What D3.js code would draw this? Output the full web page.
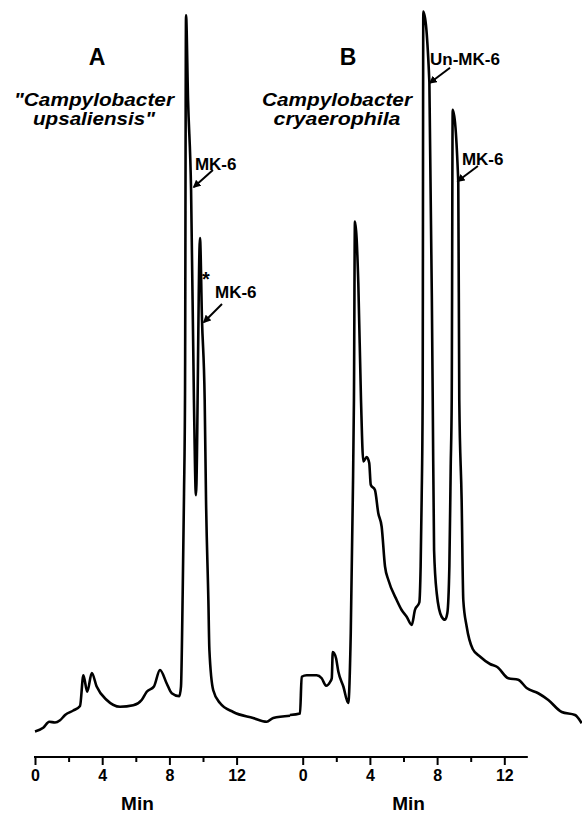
<!DOCTYPE html>
<html lang="en">
    <head>
        <meta charset="utf-8">
        <title>Menaquinone HPLC traces</title>
        <script type="text/javascript" src="https://d3js.org/d3.v7.min.js"></script>
        <style>
            body {
                margin: 0;
                background: white;
            }

            svg text {
                font-family: "Liberation Sans", Arial, Helvetica, sans-serif;
                font-weight: bold;
                fill: black;
            }

            .trace {
                fill: none;
                stroke: black;
                stroke-width: 2.6;
                stroke-linejoin: round;
            }

            .panelLetter {
                font-size: 23px;
            }

            .species {
                font-size: 17.5px;
                font-style: italic;
            }

            .peakLabel {
                font-size: 17px;
            }

            .axis text {
                font-size: 16px;
            }

            .axisTitle {
                font-size: 19px;
            }
        </style>
    </head>
    <body>
        <div id="svgContainer"></div>
        <script type="text/javascript">
            //trace A: "Campylobacter upsaliensis" (time in min, detector signal in %)
            let timeA = [0.00, 0.49, 0.85, 1.19, 1.49, 1.79, 2.28, 2.68, 2.88, 3.11, 3.38, 3.67, 4.27, 5.06, 5.85,
                         6.35, 6.65, 7.08, 7.44, 7.84, 8.14, 8.59, 8.69, 8.79, 8.87, 8.93, 8.99, 9.11, 9.29, 9.46,
                         9.58, 9.82, 9.94, 10.10, 10.18, 10.32, 10.38, 10.61, 11.01, 11.80, 12.98, 13.79, 14.18, 15.18];
            let signalA = [3.4, 3.9, 4.7, 4.6, 4.9, 5.6, 6.2, 6.8, 10.9, 8.7, 11.2, 9.4, 7.6, 6.7, 6.9,
                           7.6, 8.7, 9.4, 11.6, 9.8, 8.5, 8.1, 9.4, 21.7, 35.1, 48.4, 98.9, 87.6, 75.6, 47.6,
                           34.9, 69.2, 58.3, 47.6, 34.3, 20.9, 14.3, 8.9, 7.2, 6.0, 5.2, 4.7, 5.2, 5.5];

            //trace B: Campylobacter cryaerophila
            let timeB = [-0.76, -0.16, -0.06, 0.24, 0.83, 1.13, 1.39, 1.63, 1.73, 1.79, 1.98, 2.12, 2.42, 2.71,
                         2.86, 2.98, 3.05, 3.11, 3.31, 3.47, 3.61, 3.81, 3.96, 4.05, 4.30, 4.50, 4.70, 4.90,
                         5.10, 5.60, 5.89, 6.19, 6.49, 6.68, 6.94, 7.02, 7.08, 7.14, 7.18, 7.54, 7.74, 7.82,
                         7.98, 8.27, 8.47, 8.61, 8.73, 8.81, 8.87, 8.93, 9.26, 9.32, 9.46, 9.56, 9.76, 10.12,
                         10.55, 11.15, 11.58, 12.24, 12.83, 13.33, 14.02, 14.62, 15.42, 16.21, 16.61];
            let signalB = [5.6, 5.8, 10.7, 10.9, 10.9, 10.5, 9.5, 10.0, 10.5, 14.0, 13.2, 11.4, 9.4, 7.2,
                           16.5, 34.3, 47.6, 71.4, 63.2, 47.6, 39.4, 40.0, 39.2, 36.3, 35.6, 32.5, 30.7, 25.4,
                           23.6, 20.9, 19.6, 18.7, 17.6, 19.6, 20.6, 25.4, 34.3, 47.6, 99.4, 90.0, 47.6, 27.6,
                           21.8, 18.7, 18.3, 19.2, 25.4, 38.7, 47.6, 86.3, 76.7, 47.6, 34.3, 20.9, 17.4, 14.4,
                           13.4, 12.4, 12.0, 10.5, 10.3, 9.2, 8.5, 7.6, 6.0, 5.6, 4.5];

            //axis ticks
            let majorTicks = [0, 4, 8, 12];
            let minorTicks = [2, 6, 10];
            let axisTitle = "Min";

            //labels
            let panels = ["A", "B"];
            let speciesA = ["\"Campylobacter", "upsaliensis\""];
            let speciesB = ["Campylobacter", "cryaerophila"];

            let w = 582;
            let h = 815;
            let axisY = 757;
            let pxPerMin = 16.8;

            //one x scale per trace, both on the same time base
            let xA = d3.scaleLinear().domain([0, 12]).range([35, 35 + 12 * pxPerMin]);
            let xB = d3.scaleLinear().domain([0, 12]).range([302.7, 302.7 + 12 * pxPerMin]);
            let yScale = d3.scaleLinear().domain([0, 100]).range([axisY, 7]);

            let svg = d3.select("#svgContainer")
                        .append("svg")
                        .attr("width", w)
                        .attr("height", h);

            svg.append("defs")
                .append("marker")
                .attr("id", "arrow")
                .attr("viewBox", "0 0 10 10")
                .attr("refX", 8)
                .attr("refY", 5)
                .attr("markerWidth", 4)
                .attr("markerHeight", 4)
                .attr("orient", "auto")
                .append("path")
                .attr("d", "M0,0 L10,5 L0,10 z")
                .attr("fill", "black");

            //traces
            const drawTrace = (times, values, x) => {
                let line = d3.line()
                    .x(d => x(d[0]))
                    .y(d => yScale(d[1]))
                    .curve(d3.curveMonotoneX);
                svg.append("path")
                    .attr("class", "trace")
                    .attr("d", line(times.map((t, i) => [t, values[i]])));
            };
            drawTrace(timeA, signalA, xA);
            drawTrace(timeB, signalB, xB);

            //shared baseline
            svg.append("line")
                .attr("x1", xA(0) - 1)
                .attr("x2", xB(13.4))
                .attr("y1", axisY)
                .attr("y2", axisY)
                .attr("stroke", "black")
                .attr("stroke-width", 2);

            //axes (major with labels, minor without)
            [xA, xB].forEach(x => {
                let major = d3.axisBottom(x).tickValues(majorTicks).tickSize(8).tickPadding(5).tickSizeOuter(0);
                let minor = d3.axisBottom(x).tickValues(minorTicks).tickSize(5).tickFormat("").tickSizeOuter(0);
                [major, minor].forEach(ax => {
                    let g = svg.append("g")
                        .attr("class", "axis")
                        .attr("transform", `translate(0, ${axisY})`)
                        .call(ax);
                    g.select(".domain").remove();
                    g.selectAll("line").attr("stroke-width", 2);
                    g.selectAll("text").attr("font-family", null).attr("font-size", null);
                });
            });

            svg.append("text")
                .attr("class", "axisTitle")
                .attr("x", xA(6.1))
                .attr("y", 810)
                .attr("text-anchor", "middle")
                .text(axisTitle);

            svg.append("text")
                .attr("class", "axisTitle")
                .attr("x", xB(6.3))
                .attr("y", 810)
                .attr("text-anchor", "middle")
                .text(axisTitle);

            //panel letters and species names
            svg.append("text").attr("class", "panelLetter")
                .attr("x", 97).attr("y", 65).attr("text-anchor", "middle").text(panels[0]);
            svg.append("text").attr("class", "panelLetter")
                .attr("x", 348).attr("y", 65).attr("text-anchor", "middle").text(panels[1]);

            //widths measured on the reference so the heavy face is matched
            const species = (lines, cx, widths) => {
                lines.forEach((s, i) => {
                    svg.append("text").attr("class", "species")
                        .attr("x", cx).attr("y", 106 + i * 18.5)
                        .attr("text-anchor", "middle")
                        .attr("textLength", widths[i])
                        .attr("lengthAdjust", "spacingAndGlyphs")
                        .text(s);
                });
            };
            species(speciesA, 94, [160, 122]);
            species(speciesB, 337, [150, 127]);

            //peak labels with arrows pointing at the trace
            const peakLabel = (x, t, v, text, tx, ty, ax, ay) => {
                let tipX = x(t), tipY = yScale(v);
                svg.append("line")
                    .attr("x1", tipX + ax).attr("y1", tipY + ay)
                    .attr("x2", tipX).attr("y2", tipY)
                    .attr("stroke", "black")
                    .attr("stroke-width", 2)
                    .attr("marker-end", "url(#arrow)");
                svg.append("text").attr("class", "peakLabel")
                    .attr("x", tipX + tx).attr("y", tipY + ty)
                    .text(text);
            };

            peakLabel(xA, 9.46, 76.0, "MK-6", 1, -17, 19, -17);
            peakLabel(xA, 10.06, 58.0, "MK-6", 11, -24, 18, -18);
            svg.append("text").attr("class", "peakLabel")
                .style("font-size", "20px")
                .attr("x", xA(10.06) - 2).attr("y", yScale(58.0) - 36)
                .text("*");
            peakLabel(xB, 7.58, 89.9, "Un-MK-6", 0, -18, 20, -15);
            peakLabel(xB, 9.24, 76.8, "MK-6", 4, -16, 20, -15);
        </script>
    </body>
</html>
